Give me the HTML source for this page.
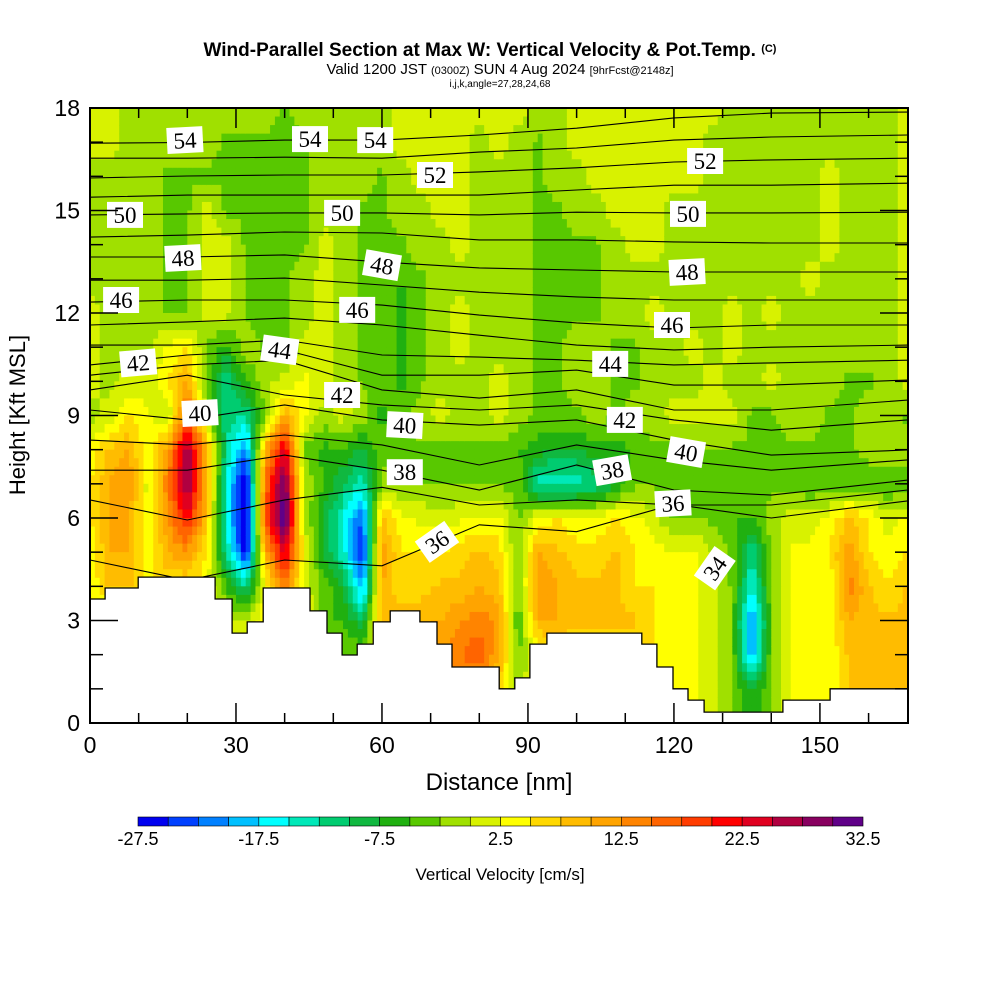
<!DOCTYPE html>
<html><head><meta charset="utf-8">
<style>
html,body{margin:0;padding:0;background:#fff;}
svg{display:block;font-family:"Liberation Sans",sans-serif;}
</style></head>
<body>
<svg id="chart" width="1000" height="1000" viewBox="0 0 1000 1000" xmlns="http://www.w3.org/2000/svg">
<rect width="1000" height="1000" fill="#fff"/>
<text x="490" y="56" text-anchor="middle" font-size="19" font-weight="bold">Wind-Parallel Section at Max W: Vertical Velocity &amp; Pot.Temp. <tspan font-size="11" dy="-4">(C)</tspan></text>
<text x="500" y="74" text-anchor="middle" font-size="15">Valid 1200 JST <tspan font-size="11">(0300Z)</tspan> SUN 4 Aug 2024 <tspan font-size="11">[9hrFcst@2148z]</tspan></text>
<text x="500" y="87" text-anchor="middle" font-size="10">i,j,k,angle=27,28,24,68</text>
<g id="heat"></g>
<g id="theta"></g>
<g id="terrain"></g>
<g id="labels"></g>
<g id="axes"></g>
<g id="cbar"></g>
<text x="25" y="415" transform="rotate(-90 25 415)" text-anchor="middle" font-size="22">Height [Kft MSL]</text>
<text x="499" y="790" text-anchor="middle" font-size="24">Distance [nm]</text>
<text x="500" y="880" text-anchor="middle" font-size="17">Vertical Velocity [cm/s]</text>
</svg>
<script>
// ---- data ----
const gridX = [0,4,8,12,16,20,24,28,32,36,40,44,48,52,56,60,64,68,72,76,80,84,88,92,96,100,104,108,112,116,120,124,128,132,136,140,144,148,152,156,160,164,168];
const gridY = [18,17,16,15,14,13,12,11,10,9,8,7,6,5,4,3,2,1,0];
const w18 = [1,1,-1,-1,-1,-1,-1,-1,-1,-1, -3,-1,-1,-1,-1,-1,1,1,1,1, 1,1,1,-1,-1,1,1,1,1,1, 1,1,1,-1,-1,-1,-1,-1,-1,-1, -1,-1,1];
const w17 = [1,1,-1,-1,-1,-1,-1,-3,-3,-3, -3,-3,-1,-1,-1,-1,1,1,1,1, -1,1,-1,-3,-1,1,1,1,1,1, 1,1,-1,-1,-1,-1,-1,-1,-1,-1, -1,-1,1];
const w16 = [-1,-1,-1,-1,-3,-3,-3,-3,-3,-3, -3,-3,-1,-1,-1,-3,-1,1,1,1, -1,-1,-1,-3,-1,-1,1,1,1,1, 1,1,-1,-1,-1,-1,-1,-1,1,-1, -1,-1,1];
const w15 = [-1,-1,-1,-1,-3,-3,1,-3,-3,-3, -3,-3,-1,-1,-3,-3,-1,-1,1,1, -1,-1,-1,-3,-3,-1,-1,1,1,1, -1,-1,-1,-1,-1,-1,-1,-1,1,-1, -1,-1,1];
const w14 = [-1,-1,-1,-1,-3,-3,1,1,-3,-3, -3,-3,1,-1,-3,-3,-3,-1,-1,1, -1,-1,-1,-3,-3,-3,-3,-1,1,1, -1,-1,-1,-1,-1,-1,-1,-1,1,-1, -1,-1,1];
const w13 = [-1,-1,-1,-1,-3,-3,1,1,-3,-3, -3,-1,1,-1,-3,-3,-5,-3,-1,-1, -1,-1,-1,-3,-3,-3,-3,-1,-1,-1, -1,-1,-1,-1,-1,-1,-1,1,-1,-1, -1,-1,1];
const w12 = [1,-1,-1,-1,-3,-3,1,1,-3,-3, -3,-1,1,-1,-3,-3,-6,-3,-1,1, -1,-1,-1,-3,-3,-3,-3,-1,-1,1, -1,-1,-1,1,-1,1,-1,-1,-1,-1, -1,-1,1];
const w11 = [1,-1,-1,-1,3,5,-3,-6,-1,-3, -3,1,1,-1,-3,-3,-6,-3,-1,1, -1,-1,-1,-3,-3,-1,-1,-3,-3,-1, -1,1,-1,1,-1,-1,-1,-1,-1,-1, -1,-1,1];
const w10 = [1,-1,1,1,5,10,-3,-12,-5,-1, 1,3,1,-1,-3,-3,-6,-3,-1,-1, -1,1,-1,-3,-3,-1,-1,-3,-3,-1, -1,-1,1,-1,-1,1,-1,-1,-1,-3, -3,-1,1];
const w9  = [-1,1,5,3,-1,18,-1,-12,-12,-3, 10,3,-1,1,-1,-6,-3,-1,1,-1, -1,1,-1,-3,-3,-3,-1,-3,-1,-1, 1,1,1,1,-3,-3,-1,-1,-3,-3, -1,-1,-3];
const w8  = [3,8,10,3,12,27,10,-12,-22,10, 24,-3,-6,-5,-8,-3,-3,-3,-3,-3, -3,-3,-5,-6,-8,-8,-6,-6,-5,-3, -3,-3,-3,-3,-3,-3,-3,-3,-3,-3, -1,-1,-1];
const w7  = [5,10,12,1,15,29,10,-15,-29,15, 31,0,-5,-10,-14,-2,-3,-3,-3,-3, -3,-3,-3,-14,-15,-14,-12,-8,-3,-3, -3,-3,-3,-5,-5,-3,-3,-5,-5,-5, -5,-5,-5];
const w6  = [5,10,10,2,12,22,8,-15,-31,18, 33,0,-8,-15,-23,8,3,2,1,2, 3,3,-3,3,5,3,3,5,3,1, -3,-3,-3,-5,-5,-1,1,1,3,8, 5,1,3];
const w5  = [3,10,10,3,10,12,5,-12,-27,10, 24,3,-8,-14,-26,12,5,5,5,6, 8,6,-3,10,8,6,6,8,5,3, 3,3,0,-3,-12,-3,3,3,5,12, 5,3,5];
const w4  = [3,8,8,5,5,5,3,-5,-12,3, 15,1,-3,-8,-20,10,5,6,8,8, 10,8,-3,12,10,8,8,8,5,5, 3,3,1,-3,-15,-3,3,3,3,14, 8,5,8];
const w3  = [3,3,3,3,3,3,3,0,0,5, 8,5,-5,-5,-10,10,10,10,10,12, 14,12,-5,10,10,8,8,8,8,5, 3,3,1,-3,-22,-3,3,3,3,10, 8,8,8];
const w2  = [3,3,3,3,3,3,3,0,0,5, 8,5,-3,-3,-3,8,8,8,12,15, 17,10,-3,3,5,5,5,5,5,5, 3,3,1,-3,-20,-3,3,3,3,8, 8,8,8];
const w1  = [3,3,3,3,3,3,3,0,0,5, 8,5,-3,-3,-3,8,8,8,10,12, 12,8,-1,3,5,5,5,5,5,5, 3,3,1,-3,-8,-3,3,3,3,8, 8,8,8];
const w0  = [3,3,3,3,3,3,3,0,0,5, 8,5,-3,-3,-3,8,8,8,10,12, 12,8,-1,3,5,5,5,5,5,5, 3,3,1,-3,-8,-3,3,3,3,8, 8,8,8];
const wRows = [w18,w17,w16,w15,w14,w13,w12,w11,w10,w9,w8,w7,w6,w5,w4,w3,w2,w1,w0];

const cbColors = ["#0000f0","#0040ff","#0080ff","#00c0ff","#00ffff","#00e8b8","#00cc70","#10b840","#20b010","#58c800","#a0e000","#d8f200","#ffff00","#ffd800","#ffbc00","#ffa400","#ff8400","#ff6400","#ff3c00","#ff0000","#e00020","#b00040","#880060","#600088"];
const cbTicks = [-27.5,-17.5,-7.5,2.5,12.5,22.5,32.5];

const terrainEdges = [0,3.1,9.9,25.7,29.2,32.3,35.6,45.2,48.7,51.8,54.9,58.2,61.7,67.8,71.3,74.4,84.1,87.3,90.4,93.9,113.4,116.5,119.8,122.9,126.2,142.4,152.1,168.1];
const terrainH = [3.63,3.95,4.27,3.63,2.63,2.96,3.95,3.28,2.63,1.99,2.31,2.96,3.28,2.96,2.31,1.64,1.0,1.32,2.31,2.63,2.31,1.64,1.0,0.67,0.32,0.67,1.0];

const thetaX = [0,20,40,60,80,100,120,140,168];
const theta54 = [16.97,16.99,17.06,17.06,17.21,17.41,17.71,17.85,17.88];
const theta53 = [16.53,16.53,16.56,16.53,16.71,16.83,17.06,17.15,17.21];
const theta52 = [15.95,16.01,16.04,16.04,16.13,16.25,16.42,16.48,16.53];
const theta51 = [15.39,15.45,15.45,15.45,15.45,15.60,15.74,15.74,15.80];
const theta50 = [14.87,14.90,14.93,14.93,14.87,14.95,14.93,14.93,14.95];
const theta49 = [14.22,14.28,14.37,14.34,14.14,14.14,14.08,14.05,14.05];
const theta48 = [13.64,13.64,13.70,13.49,13.32,13.26,13.20,13.20,13.20];
const theta47 = [12.96,12.96,13.02,12.82,12.61,12.47,12.38,12.38,12.38];
const theta46 = [12.32,12.38,12.38,12.23,11.94,11.71,11.56,11.65,11.65];
const theta45 = [11.65,11.74,11.85,11.65,11.35,11.06,10.92,11.00,11.06];
const theta44 = [11.06,11.06,11.21,10.77,10.71,10.62,10.48,10.54,10.62];
const theta43 = [10.48,10.77,10.92,10.18,10.18,10.33,9.89,9.89,10.04];
const theta42 = [10.18,10.48,10.62,9.75,9.51,9.75,9.16,9.16,9.45];
const theta41 = [9.75,10.18,9.60,9.31,9.16,9.31,8.87,8.57,8.87];
const theta40 = [9.16,8.87,9.31,8.87,8.72,8.87,8.28,7.84,7.99];
const theta39 = [8.28,8.14,8.43,8.14,7.55,8.14,7.70,7.40,7.70];
const theta38 = [7.40,7.40,7.84,7.40,6.82,7.55,6.82,6.67,7.11];
const theta37 = [6.53,5.94,6.53,6.90,6.38,6.53,6.38,6.38,6.82];
const theta36 = [4.77,4.18,4.77,4.60,5.80,5.60,6.40,6.00,6.50];
const thetaLines = [theta54,theta53,theta52,theta51,theta50,theta49,theta48,theta47,theta46,theta45,theta44,theta43,theta42,theta41,theta40,theta39,theta38,theta37,theta36];

const labelVals = [54,54,54,52,52,50,50,50,48,48,48,46,46,46,44,44,42,42,42,40,40,40,38,38,36,36,34];
const labelNm = [19.5,45.2,58.6,70.9,126.4,7.2,51.8,122.9,19.1,60.0,122.7,6.4,54.9,119.6,39.0,106.9,9.9,51.8,109.9,22.6,64.7,122.5,64.7,107.3,71.3,119.8,128.4];
const labelKft = [17.06,17.09,17.06,16.04,16.45,14.87,14.93,14.90,13.61,13.40,13.20,12.38,12.09,11.65,10.92,10.51,10.54,9.60,8.87,9.07,8.72,7.93,7.34,7.40,5.30,6.43,4.53];
const labelAng = [-3,0,0,0,0,0,0,0,-3,10,-3,0,0,0,8,0,-5,0,0,-3,3,10,0,-10,-35,-3,-55];

// ---- scales ----
const X0=90, X1=908, Y0=108, Y1=723, XMAX=168.1, YMAX=18;
const xs = nm => X0 + nm*(X1-X0)/XMAX;
const ys = k => Y1 - k*(Y1-Y0)/YMAX;
const NS = "http://www.w3.org/2000/svg";
function mk(tag, attrs, parent){const e=document.createElementNS(NS,tag);for(const k in attrs)e.setAttribute(k,attrs[k]);parent.appendChild(e);return e;}
function colorOf(v){let k=Math.floor((v+27.5)/2.5);if(k<0)k=0;if(k>23)k=23;return cbColors[k];}

// ---- heatmap ----
const heat=document.getElementById('heat');
const SUB=4;
for(let j=0;j<gridY.length-1;j++){
  for(let i=0;i<gridX.length-1;i++){
    const v00=wRows[j][i],v10=wRows[j][i+1],v01=wRows[j+1][i],v11=wRows[j+1][i+1];
    const xa=gridX[i],xb=gridX[i+1],ya=gridY[j],yb=gridY[j+1];
    for(let a=0;a<SUB;a++){for(let b=0;b<SUB;b++){
      const fx=(a+0.5)/SUB, fy=(b+0.5)/SUB;
      const v=(v00*(1-fx)+v10*fx)*(1-fy)+(v01*(1-fx)+v11*fx)*fy;
      const nx0=xa+(xb-xa)*a/SUB, nx1=xa+(xb-xa)*(a+1)/SUB;
      const ky0=ya+(yb-ya)*b/SUB, ky1=ya+(yb-ya)*(b+1)/SUB;
      const px0=xs(nx0), px1=(i===gridX.length-2&&a===SUB-1)?X1:xs(nx1);
      const py0=ys(ky0), py1=ys(ky1);
      const r=mk('rect',{x:px0.toFixed(2),y:py0.toFixed(2),width:(px1-px0+0.6).toFixed(2),height:(py1-py0+0.6).toFixed(2),fill:colorOf(v)},heat);
      
      
    }}
  }
}

// ---- isentropes ----
const th=document.getElementById('theta');
thetaLines.forEach(arr=>{
  const pts=arr.map((k,n)=>xs(thetaX[n]).toFixed(1)+","+ys(k).toFixed(1)).join(" ");
  const p=mk('polyline',{points:pts,fill:'none',stroke:'#000','stroke-width':1.1},th);
  
  
});

// ---- terrain ----
const ter=document.getElementById('terrain');
let tp=[];
tp.push(xs(0)+","+ys(0));
for(let s=0;s<terrainH.length;s++){
  tp.push(xs(terrainEdges[s]).toFixed(1)+","+ys(terrainH[s]).toFixed(1));
  tp.push(xs(terrainEdges[s+1]).toFixed(1)+","+ys(terrainH[s]).toFixed(1));
}
tp.push(X1+","+Y1);
const tpoly=mk('polygon',{points:tp.join(" "),fill:'#fff',stroke:'#000','stroke-width':1.3},ter);



// ---- labels ----
const lab=document.getElementById('labels');
labelVals.forEach((val,n)=>{
  const cx=xs(labelNm[n]), cy=ys(labelKft[n]);
  const g=mk('g',{transform:`translate(${cx.toFixed(1)},${cy.toFixed(1)}) rotate(${labelAng[n]})`},lab);
  
  
  mk('rect',{x:-18,y:-13,width:36,height:26,fill:'#fff'},g);
  const t=mk('text',{x:0,y:8,'text-anchor':'middle','font-size':23,'font-family':'"Liberation Serif",serif'},g);
  t.textContent=val;
});

// ---- axes ----
const ax=document.getElementById('axes');
mk('rect',{x:X0,y:Y0,width:X1-X0,height:Y1-Y0,fill:'none',stroke:'#000','stroke-width':2},ax);
for(let k=0;k<=18;k++){
  const y=ys(k), L=(k%3===0)?28:13;
  mk('line',{x1:X0,y1:y,x2:X0+L,y2:y,stroke:'#000','stroke-width':1.5},ax);
  mk('line',{x1:X1,y1:y,x2:X1-L,y2:y,stroke:'#000','stroke-width':1.5},ax);
  if(k%3===0){const t=mk('text',{x:X0-10,y:y+8,'text-anchor':'end','font-size':23},ax);t.textContent=k;
    
    }
}
for(let d=0;d<=160;d+=10){
  const x=xs(d), L=(d%30===0)?20:10;
  mk('line',{x1:x,y1:Y1,x2:x,y2:Y1-L,stroke:'#000','stroke-width':1.5},ax);
  mk('line',{x1:x,y1:Y0,x2:x,y2:Y0+L,stroke:'#000','stroke-width':1.5},ax);
  if(d%30===0){const t=mk('text',{x:x,y:753,'text-anchor':'middle','font-size':23},ax);t.textContent=d;
    
    }
}

// ---- colorbar ----
const cb=document.getElementById('cbar');
const CB0=138, CB1=863, CBY=817, CBH=9;
const bw=(CB1-CB0)/cbColors.length;
cbColors.forEach((c,n)=>{
  const r=mk('rect',{x:(CB0+n*bw).toFixed(2),y:CBY,width:bw.toFixed(2),height:CBH,fill:c,stroke:'#000','stroke-width':0.6},cb);
  
  
});
cbTicks.forEach(v=>{
  const x=CB0+(v+27.5)/2.5*bw;
  const t=mk('text',{x:x.toFixed(1),y:845,'text-anchor':'middle','font-size':18},cb);
  t.textContent=v;
  
  
});
</script>
</body></html>
